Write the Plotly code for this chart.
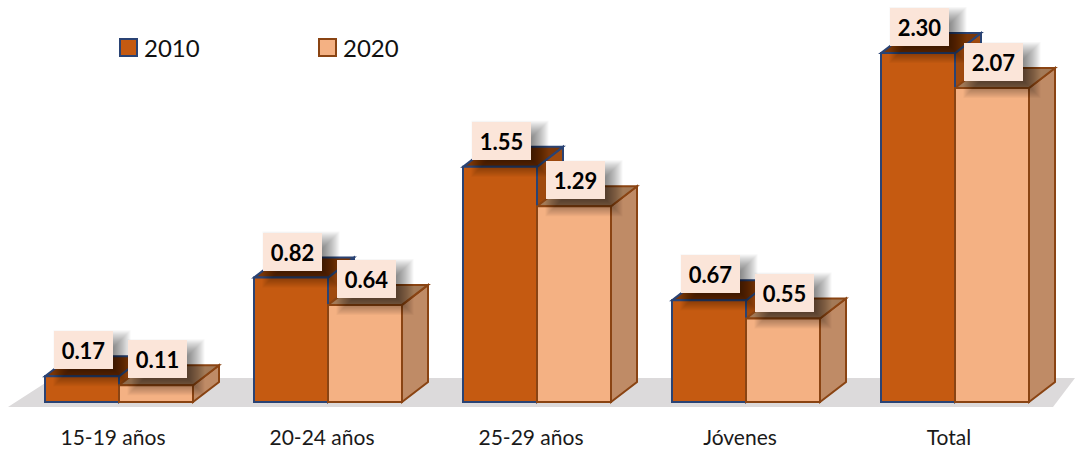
import plotly.graph_objects as go

categories = ["15-19 años", "20-24 años", "25-29 años", "Jóvenes", "Total"]
years = ["2010", "2020"]
values_2010 = [0.17, 0.82, 1.55, 0.67, 2.30]
values_2020 = [0.11, 0.64, 1.29, 0.55, 2.07]

W, H = 1075, 449
PX_PER_CAT = 209.0
PX_PER_UNIT = 151.7
X0_PX = 119.0      # pixel of category 0 centre
BASE_PX = 402.0    # pixel of value 0
PLOT_BOTTOM = 412
BAR_W = 74.0 / PX_PER_CAT
DX = 26.0 / PX_PER_CAT
DY = 20.0 / PX_PER_UNIT

xr = [-X0_PX / PX_PER_CAT, (W - X0_PX) / PX_PER_CAT]
yr = [(BASE_PX - PLOT_BOTTOM) / PX_PER_UNIT, BASE_PX / PX_PER_UNIT]


def px_x(p):
    return (p - X0_PX) / PX_PER_CAT


def px_y(p):
    return (BASE_PX - p) / PX_PER_UNIT


FRONT = {"2010": "#C55A11", "2020": "#F4B183"}
EDGE = {"2010": "#2A4374", "2020": "#8A4413"}
TOP = {"2010": "#7A3608", "2020": "#A37A58"}
SIDE = {"2010": "#A04A0E", "2020": "#BF8B66"}
SERIES = {"2010": values_2010, "2020": values_2020}
OFFSET = {"2010": -BAR_W / 2, "2020": BAR_W / 2}

shapes = []


def poly(points, fill, line=None, width=0, layer="below", xref="x", yref="y"):
    path = "M " + " L ".join(f"{a:.5f},{b:.5f}" for a, b in points) + " Z"
    shapes.append(dict(type="path", path=path, xref=xref, yref=yref, fillcolor=fill,
                       line=dict(color=line or "rgba(0,0,0,0)", width=width), layer=layer))


# floor
poly([(px_x(8), px_y(407)), (px_x(1053), px_y(407)), (px_x(1075), px_y(378)), (px_x(53), px_y(378))],
     "#DCDADB")

# depth faces, drawn behind the bars, computed from the values
for yr_name in years:
    for i, v in enumerate(SERIES[yr_name]):
        c = i + OFFSET[yr_name]
        l, r = c - BAR_W / 2, c + BAR_W / 2
        poly([(r, 0), (r + DX, DY), (r + DX, v + DY), (r, v)], SIDE[yr_name], EDGE[yr_name], 2)
        poly([(l, v), (l + DX, v + DY), (r + DX, v + DY), (r, v)], TOP[yr_name], EDGE[yr_name], 2)

# label shadows (stacked translucent rectangles give a soft blur)
BOX_W, BOX_H = 59.0, 38.0
LABEL_DX, LABEL_DY = 1.0, 26.0
SH_DX, SH_DY = 9.0, 8.0
for yr_name in years:
    for i, v in enumerate(SERIES[yr_name]):
        cx = i + OFFSET[yr_name] + (LABEL_DX + SH_DX) / PX_PER_CAT
        cy = v + (LABEL_DY - SH_DY) / PX_PER_UNIT
        for b in range(9, -10, -1):
            hw = (BOX_W / 2 + b) / PX_PER_CAT
            hh = (BOX_H / 2 + b) / PX_PER_UNIT
            shapes.append(dict(type="rect", xref="x", yref="y", x0=cx - hw, x1=cx + hw,
                               y0=cy - hh, y1=cy + hh, fillcolor="rgba(0,0,0,0.032)",
                               line=dict(width=0), layer="above"))

fig = go.Figure()
for yr_name in years:
    fig.add_trace(go.Bar(
        x=list(range(len(categories))), y=SERIES[yr_name], name=yr_name,
        marker=dict(color=FRONT[yr_name], line=dict(color=EDGE[yr_name], width=2)),
        showlegend=False, hovertemplate="%{y:.2f}<extra>" + yr_name + "</extra>",
    ))

annotations = []
for yr_name in years:
    for i, v in enumerate(SERIES[yr_name]):
        annotations.append(dict(
            x=i + OFFSET[yr_name], y=v, xref="x", yref="y", text=f"<b>{v:.2f}</b>",
            showarrow=False, xanchor="center", yanchor="middle", align="center", valign="middle",
            xshift=LABEL_DX, yshift=LABEL_DY, width=BOX_W, height=BOX_H, borderpad=0, borderwidth=0,
            bgcolor="#FBE5D9", font=dict(family="Lato", size=22, color="#000000"),
        ))

# legend
LEG_X = {"2010": 120, "2020": 319}
LEG_Y0, LEG_Y1, LEG_SIZE = 39, 56, 17
for yr_name in years:
    x0 = LEG_X[yr_name]
    poly([(px_x(x0), px_y(LEG_Y1)), (px_x(x0 + LEG_SIZE), px_y(LEG_Y1)),
          (px_x(x0 + LEG_SIZE), px_y(LEG_Y0)), (px_x(x0), px_y(LEG_Y0))],
         FRONT[yr_name], EDGE[yr_name], 2, layer="above")
    annotations.append(dict(
        x=px_x(x0 + 22), y=px_y(47), xref="x", yref="y", text=yr_name, showarrow=False,
        xanchor="left", yanchor="middle", font=dict(family="Lato", size=24, color="#111111"),
    ))

fig.update_layout(
    width=W, height=H, autosize=False,
    margin=dict(l=0, r=0, t=0, b=H - PLOT_BOTTOM, pad=0),
    paper_bgcolor="#FFFFFF", plot_bgcolor="rgba(0,0,0,0)",
    barmode="group", bargap=1 - 2 * BAR_W, bargroupgap=0,
    shapes=shapes, annotations=annotations, showlegend=False,
    xaxis=dict(range=xr, tickmode="array", automargin=False,
               tickvals=[i - 6 / PX_PER_CAT for i in range(len(categories))], ticktext=categories,
               showgrid=False, zeroline=False, showline=False, ticks="outside", ticklen=7,
               tickcolor="rgba(0,0,0,0)", tickfont=dict(family="Lato", size=21, color="#1a1a1a")),
    yaxis=dict(range=yr, visible=False, showgrid=False, zeroline=False, automargin=False),
)

fig.write_html("out.html", config=dict(displayModeBar=False),
               post_script="document.body.style.margin='0';")
